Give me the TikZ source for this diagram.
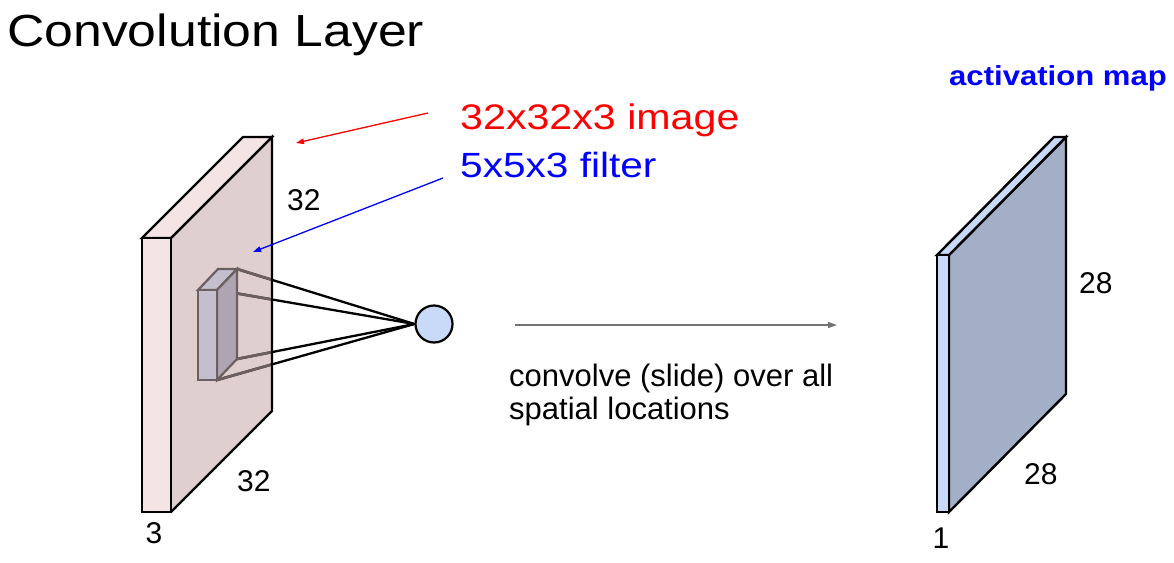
\documentclass[tikz,border=0pt]{standalone}
\usepackage{fontspec}
\usepackage{graphicx}
\setmainfont{Liberation Sans}
\usetikzlibrary{arrows.meta}
\definecolor{pinkfront}{HTML}{F4E4E4}
\definecolor{pinkside}{HTML}{DFCFCF}
\definecolor{filtfront}{HTML}{C5BECF}
\definecolor{filtside}{HTML}{AFA5B2}
\definecolor{filtedge}{HTML}{6B5F5F}
\definecolor{bluefront}{HTML}{C9DAF8}
\definecolor{blueside}{HTML}{A3AFC6}
\definecolor{arrowgray}{HTML}{737373}
\definecolor{txtred}{HTML}{FF0000}
\definecolor{txtblue}{HTML}{0000FF}
\tikzset{
  slab/.style={draw=black, line width=2.4pt},
  filt/.style={draw=filtedge, line width=2.2pt},
  ray/.style={draw=black, line width=2.3pt},
  rayin/.style={draw=filtedge, line width=2.8pt},
  dimlabel/.style={anchor=base west, inner sep=0pt, font=\fontsize{30}{34}\selectfont},
  pointer/.style={line width=1.3pt, -{Triangle[length=8pt,width=5.5pt]}},
}
\begin{document}
\begin{tikzpicture}[x=1pt,y=-1pt]
\useasboundingbox (0,0) rectangle (1174,562);
% title
\node[anchor=base west, inner sep=0pt, font=\fontsize{45}{50}\selectfont] (title) at (7,46) {\scalebox{1.15}[1]{Convolution Layer}};
% ---- left slab (32x32x3 image)
\coordinate (lA) at (142,512);
\coordinate (lB) at (171,512);
\coordinate (lC) at (171,238);
\coordinate (lD) at (142,238);
\coordinate (lC2) at (272,137);
\coordinate (lD2) at (243,137);
\coordinate (lB2) at (272,411);
\fill[pinkside] (lC) -- (lC2) -- (lB2) -- (lB) -- cycle;
% filter corners
\coordinate (fA) at (198,380);
\coordinate (fB) at (217,380);
\coordinate (fC) at (217,290);
\coordinate (fD) at (198,290);
\coordinate (fC2) at (237,269);
\coordinate (fD2) at (218,269);
\coordinate (fB2) at (237,359);
% neuron
\node[circle, draw=black, line width=2.2pt, fill=bluefront, minimum size=37pt, inner sep=0pt] (neuron) at (434,324) {};
% rays
\draw[ray] (fC2) -- (neuron.west);
\draw[ray] (fC) -- (neuron.west);
\draw[ray] (fB2) -- (neuron.west);
\draw[ray] (fB) -- (neuron.west);
\begin{scope}
  \clip (lC) -- (lC2) -- (lB2) -- (lB) -- cycle;
  \draw[rayin] (fC2) -- (neuron.west);
  \draw[rayin] (fC) -- (neuron.west);
  \draw[rayin] (fB2) -- (neuron.west);
  \draw[rayin] (fB) -- (neuron.west);
\end{scope}
% filter box
\filldraw[filt, fill=filtfront] (fD) -- (fC) -- (fC2) -- (fD2) -- cycle;
\filldraw[filt, fill=filtside] (fC) -- (fC2) -- (fB2) -- (fB) -- cycle;
\filldraw[filt, fill=filtfront] (fA) rectangle (fC);
% slab outlines
\draw[slab] (lC) -- (lC2) -- (lB2) -- (lB);
\filldraw[slab, fill=pinkfront] (lD) -- (lC) -- (lC2) -- (lD2) -- cycle;
\filldraw[slab, fill=pinkfront] (lA) rectangle (lC);
% labels of left slab
\node[dimlabel] (l32a) at (287,210) {32};
\node[dimlabel] (l32b) at (237,491) {32};
\node[dimlabel, anchor=base] (l3) at (154,543) {3};
% red / blue captions
\node[anchor=base west, inner sep=0pt, font=\fontsize{35.5}{40}\selectfont, text=txtred] (imgcap) at (460,129) {\scalebox{1.16}[1]{32x32x3 image}};
\node[anchor=base west, inner sep=0pt, font=\fontsize{35}{40}\selectfont, text=txtblue] (filtcap) at (460,177) {\scalebox{1.16}[1]{5x5x3 filter}};
\coordinate (redstart) at (428,113);
\coordinate (redend) at (296,143);
\coordinate (bluestart) at (443,178);
\coordinate (blueend) at (253,252);
\draw[pointer, draw=txtred, fill=txtred] (redstart) -- (redend);
\draw[pointer, draw=txtblue, fill=txtblue] (bluestart) -- (blueend);
% convolve arrow
\coordinate (convstart) at (515,325);
\coordinate (convend) at (837,325);
\draw[line width=1.4pt, draw=arrowgray, -{Triangle[length=9pt,width=6pt]}] (convstart) -- (convend);
\node[anchor=base west, inner sep=0pt, font=\fontsize{31}{34}\selectfont] (conv1) at (509,386) {convolve (slide) over all};
\node[anchor=base west, inner sep=0pt, font=\fontsize{31}{34}\selectfont] (conv2) at (509,419) {spatial locations};
% ---- right slab (activation map)
\coordinate (rA) at (937,512);
\coordinate (rB) at (949,512);
\coordinate (rC) at (949,255);
\coordinate (rD) at (937,255);
\coordinate (rC2) at (1066,137);
\coordinate (rD2) at (1054,137);
\coordinate (rB2) at (1066,394);
\filldraw[slab, fill=blueside] (rC) -- (rC2) -- (rB2) -- (rB) -- cycle;
\filldraw[slab, fill=bluefront] (rD) -- (rC) -- (rC2) -- (rD2) -- cycle;
\filldraw[slab, fill=bluefront] (rA) rectangle (rC);
\node[anchor=base west, inner sep=0pt, font=\bfseries\fontsize{27.5}{32}\selectfont, text=txtblue] (actcap) at (949,85) {\scalebox{1.13}[1]{activation map}};
\node[dimlabel] (r28a) at (1079,293) {28};
\node[dimlabel] (r28b) at (1024,484) {28};
\node[dimlabel, anchor=base] (r1) at (941,548) {1};
\end{tikzpicture}
\end{document}
